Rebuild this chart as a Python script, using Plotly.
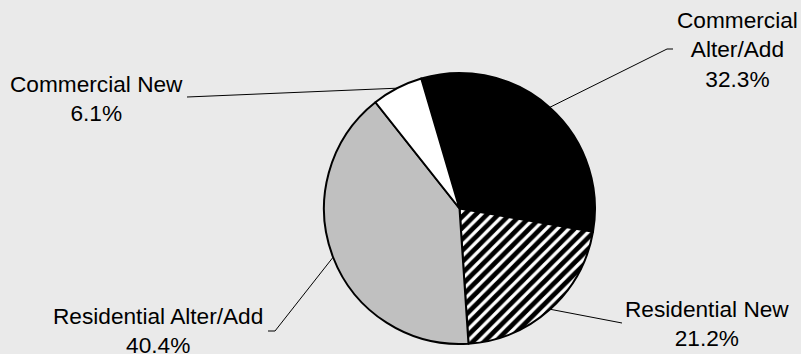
import math
import plotly.graph_objects as go

# ---- data ----
categories = ["Commercial Alter/Add", "Residential New", "Residential Alter/Add", "Commercial New"]
display_labels = ["Commercial<br>Alter/Add", "Residential New", "Residential Alter/Add", "Commercial New"]
values = [32.3, 21.2, 40.4, 6.1]
colors = ["#000000", "#ffffff", "#c0c0c0", "#ffffff"]
patterns = ["", "/", "", ""]

# ---- layout constants ----
W, H = 801, 354
BG = "#eaeaea"
CX, CY, R = 459.5, 208.5, 135.5
ROTATION = -16.4
FONT = dict(family="Liberation Sans, Arial, sans-serif", size=22.67, color="#000000")

# label anchor (text centre) and leader-line end points, per category
label_pos = [(737, 49), (707, 323), (158, 330), (96, 98)]
leader_ends = [[(667, 49), (673, 49)], [(622, 323)], [(275, 331), (268, 331)], [(187, 97)]]

fig = go.Figure()

fig.add_trace(go.Pie(
    labels=categories,
    values=values,
    sort=False,
    direction="clockwise",
    rotation=ROTATION,
    textinfo="none",
    hoverinfo="label+percent",
    showlegend=False,
    marker=dict(
        colors=colors,
        line=dict(color="#000000", width=2),
        pattern=dict(shape=patterns, fgcolor="#000000", bgcolor="#ffffff", size=8, solidity=0.6),
    ),
    domain=dict(x=[(CX - R) / W, (CX + R) / W], y=[1 - (CY + R) / H, 1 - (CY - R) / H]),
))

# leader lines: start at mid-angle of each slice on the pie edge
total = sum(values)
cum = 0.0
for i, v in enumerate(values):
    mid = ROTATION + (cum + v / 2) / total * 360.0
    cum += v
    a = math.radians(mid)
    sx = CX + R * math.sin(a)
    sy = CY - R * math.cos(a)
    pts = [(sx, sy)] + leader_ends[i]
    fig.add_trace(go.Scatter(
        x=[p[0] for p in pts], y=[p[1] for p in pts],
        mode="lines", line=dict(color="#000000", width=1),
        hoverinfo="skip", showlegend=False,
    ))
    fig.add_annotation(
        x=label_pos[i][0], y=label_pos[i][1], xref="x", yref="y",
        text=f"{display_labels[i]}<br>{v:.1f}%",
        showarrow=False, xanchor="center", yanchor="middle",
        font=FONT, align="center",
    )

fig.update_xaxes(range=[0, W], visible=False, fixedrange=True)
fig.update_yaxes(range=[H, 0], visible=False, fixedrange=True)
fig.update_layout(
    width=W, height=H,
    margin=dict(l=0, r=0, t=0, b=0),
    paper_bgcolor=BG, plot_bgcolor=BG,
)

fig.write_html(
    "out.html",
    config={"displayModeBar": False},
    post_script="document.body.style.margin='0';document.body.style.overflow='hidden';",
)
